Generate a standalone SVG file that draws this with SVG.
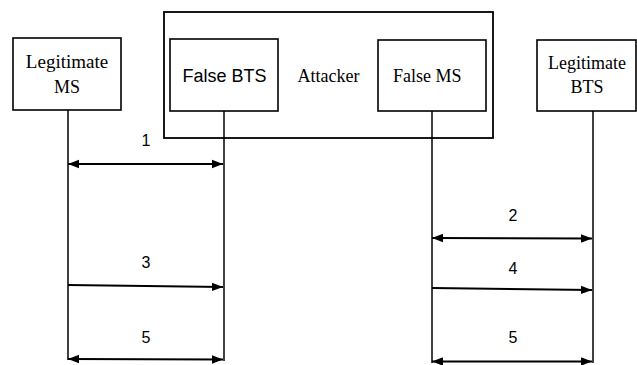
<svg xmlns="http://www.w3.org/2000/svg" width="637" height="365" viewBox="0 0 637 365">
  <style>
    .box { fill: #fff; stroke: #000; stroke-width: 1.6; }
    .frame { fill: none; stroke: #000; stroke-width: 1.8; }
    .life { stroke: #000; stroke-width: 1.5; fill: none; }
    .msg { stroke: #000; stroke-width: 2; fill: none; marker-end: url(#head); }
    .both { marker-start: url(#head); }
    .serif { font-family: 'Liberation Serif', 'Times New Roman', 'DejaVu Serif', serif; font-size: 18px; fill: #000; }
    .sans { font-family: 'Liberation Sans', Arial, sans-serif; font-size: 18px; fill: #000; }
    .num { font-family: 'Liberation Sans', Arial, sans-serif; font-size: 16px; fill: #000; text-anchor: middle; }
  </style>
  <defs>
    <marker id="head" markerUnits="userSpaceOnUse" markerWidth="12" markerHeight="10" refX="11" refY="5" orient="auto-start-reverse">
      <path d="M0,0.8 L11,5 L0,9.2 Z" fill="#000"/>
    </marker>
  </defs>
  <rect width="637" height="365" fill="#fff"/>

  <!-- attacker enclosure -->
  <g id="attacker">
    <rect class="frame" x="164" y="12" width="329" height="126"/>
    <text class="serif" x="297.5" y="82" font-family="Liberation Serif, serif">Attacker</text>
  </g>

  <g id="legit-ms">
    <rect class="box" x="13" y="38" width="108" height="72"/>
    <text class="serif" x="67" y="68" text-anchor="middle" style="font-size:19px">Legitimate</text>
    <text class="serif" x="67" y="93" text-anchor="middle">MS</text>
  </g>

  <g id="false-bts">
    <rect class="box" x="170" y="39" width="108" height="72"/>
    <text class="sans" x="182.5" y="82">False BTS</text>
  </g>

  <g id="false-ms">
    <rect class="box" x="378" y="40" width="108" height="71"/>
    <text class="serif" x="393" y="82">False MS</text>
  </g>

  <g id="legit-bts">
    <rect class="box" x="537" y="40" width="99" height="71"/>
    <text class="serif" x="587" y="69" text-anchor="middle">Legitimate</text>
    <text class="serif" x="587" y="93" text-anchor="middle">BTS</text>
  </g>

  <g id="connectors">
    <!-- lifelines -->
    <line class="life" x1="68" y1="110" x2="68" y2="360"/>
    <line class="life" x1="224" y1="111" x2="224" y2="361"/>
    <line class="life" x1="432" y1="111" x2="432" y2="363"/>
    <line class="life" x1="593" y1="111" x2="593" y2="363"/>

    <!-- messages -->
    <line class="msg both" x1="68" y1="164" x2="223" y2="164"/>
    <line class="msg" x1="68" y1="285" x2="223" y2="287"/>
    <line class="msg both" x1="68" y1="359" x2="223" y2="359.5"/>
    <line class="msg both" x1="432" y1="238" x2="592" y2="238.5"/>
    <line class="msg" x1="432" y1="288" x2="592" y2="290"/>
    <line class="msg both" x1="432" y1="361.5" x2="592" y2="361.5"/>

    <text class="num" x="146" y="146">1</text>
    <text class="num" x="513" y="220.5">2</text>
    <text class="num" x="146" y="268">3</text>
    <text class="num" x="513" y="274">4</text>
    <text class="num" x="146" y="342.5">5</text>
    <text class="num" x="513" y="343">5</text>
  </g>
</svg>
